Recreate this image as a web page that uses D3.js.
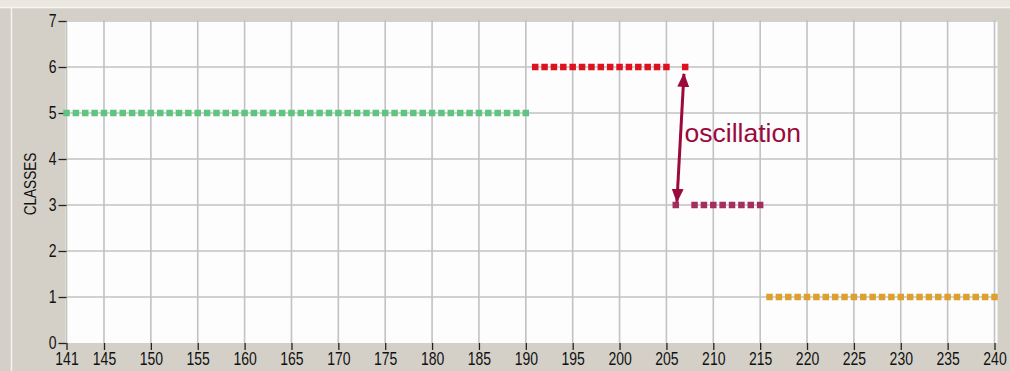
<!DOCTYPE html>
<html>
<head>
<meta charset="utf-8">
<script src="https://cdn.jsdelivr.net/npm/d3@7"></script>
<style>
  html, body { margin: 0; padding: 0; background: #d4d0c8; }
  svg { display: block; }
  .axis text, text.axis-title { font-family: 'Liberation Sans', Arial, sans-serif; font-size: 17.5px; fill: #111; }
</style>
</head>
<body>
<svg id="chart" width="1010" height="371"></svg>
<script>
// Class membership per time step, one array per run of the same class
const greenSteps  = d3.range(141, 191);           // 141 .. 190
const greenClass  = greenSteps.map(() => 5);
const redSteps    = [191,192,193,194,195,196,197,198,199,200,201,202,203,204,205,207];
const redClass    = redSteps.map(() => 6);
const purpleSteps = [206,208,209,210,211,212,213,214,215];
const purpleClass = purpleSteps.map(() => 3);
const orangeSteps = d3.range(216, 241);           // 216 .. 240
const orangeClass = orangeSteps.map(() => 1);

const xTickValues = [141,145,150,155,160,165,170,175,180,185,190,195,200,205,210,215,220,225,230,235,240];
const yTickValues = [0,1,2,3,4,5,6,7];
const yTitle = "CLASSES";

// Annotation: double-headed arrow between the two oscillating classes
const arrowFrom = { step: 206.12, cls: 3.07 };
const arrowTo   = { step: 206.87, cls: 5.85 };
const noteText  = "oscillation";
const notePos   = { step: 206.93, cls: 4.36 };

const series = [
  { steps: greenSteps,  classes: greenClass,  color: "#5fc47f" },
  { steps: redSteps,    classes: redClass,    color: "#e0111e" },
  { steps: purpleSteps, classes: purpleClass, color: "#a3305c" },
  { steps: orangeSteps, classes: orangeClass, color: "#dd9f2d" }
];

const svg = d3.select("#chart");
const W = 1010, H = 371;
const plot = { left: 66.5, right: 994.5, top: 21, bottom: 343 };

// window frame
svg.append("rect").attr("x", 0).attr("y", 0).attr("width", W).attr("height", 7).attr("fill", "#ebe8e2");
svg.append("line").attr("x1", 0).attr("x2", W).attr("y1", 7.5).attr("y2", 7.5).attr("stroke", "#f7f6f3").attr("stroke-width", 1.5);
svg.append("line").attr("x1", 11.5).attr("x2", 11.5).attr("y1", 7).attr("y2", H).attr("stroke", "#f4f3ef").attr("stroke-width", 1.5);

const x = d3.scaleLinear().domain([141, 240]).range([plot.left, plot.right]);
const y = d3.scaleLinear().domain([0, 7]).range([plot.bottom, plot.top]);

// plot background
svg.append("rect")
  .attr("x", plot.left - 1).attr("y", plot.top - 1)
  .attr("width", plot.right - plot.left + 4).attr("height", plot.bottom - plot.top + 1)
  .attr("fill", "#fdfdfd");

// grid
const grid = svg.append("g").attr("stroke", "#c2c2c2").attr("stroke-width", 1.6);
grid.selectAll("line.v").data(xTickValues).join("line")
  .attr("x1", d => x(d)).attr("x2", d => x(d))
  .attr("y1", plot.top - 1).attr("y2", plot.bottom);
grid.selectAll("line.h").data(yTickValues.filter(v => v > 0)).join("line")
  .attr("x1", plot.left).attr("x2", plot.right + 3)
  .attr("y1", d => y(d)).attr("y2", d => y(d));

// axes: tall, narrow labels (horizontally compressed sans)
const squeeze = 0.8;
const xAxis = svg.append("g")
  .attr("class", "axis")
  .attr("transform", `translate(0,${plot.bottom})`)
  .call(d3.axisBottom(x).tickValues(xTickValues).tickFormat(d3.format("d")).tickSize(7).tickPadding(2));
const yAxis = svg.append("g")
  .attr("class", "axis")
  .attr("transform", `translate(${plot.left},0)`)
  .call(d3.axisLeft(y).tickValues(yTickValues).tickFormat(d3.format("d")).tickSize(8).tickPadding(2));
[xAxis, yAxis].forEach(a => {
  a.attr("font-size", null).attr("font-family", null);
  a.select(".domain").remove();
  a.selectAll(".tick line").attr("stroke", "#222").attr("stroke-width", 1.3);
});
xAxis.selectAll(".tick text").attr("transform", `scale(${squeeze},1)`).attr("dy", "0.74em");
yAxis.selectAll(".tick text")
  .attr("x", -10 / squeeze)
  .attr("transform", `scale(${squeeze},1)`);

svg.append("text")
  .attr("class", "axis-title")
  .attr("transform", `translate(36,${(plot.top + plot.bottom) / 2 + 2}) rotate(-90) scale(${squeeze},1)`)
  .attr("text-anchor", "middle")
  .style("font-size", "17px")
  .text(yTitle);

// markers
const size = 6.5;
series.forEach(s => {
  svg.append("g").selectAll("rect")
    .data(s.steps.map((st, i) => [st, s.classes[i]]))
    .join("rect")
    .attr("x", d => x(d[0]) - size / 2)
    .attr("y", d => y(d[1]) - size / 2)
    .attr("width", size).attr("height", size)
    .attr("fill", s.color);
});

// arrow annotation
const noteColor = "#9b0a3c";
const defs = svg.append("defs");
defs.append("marker")
  .attr("id", "head")
  .attr("viewBox", "0 0 14 12")
  .attr("refX", 13).attr("refY", 6)
  .attr("markerWidth", 14).attr("markerHeight", 12)
  .attr("markerUnits", "userSpaceOnUse")
  .attr("orient", "auto-start-reverse")
  .append("path").attr("d", "M0,0 L14,6 L0,12 Z").attr("fill", noteColor);

svg.append("line")
  .attr("x1", x(arrowFrom.step)).attr("y1", y(arrowFrom.cls))
  .attr("x2", x(arrowTo.step)).attr("y2", y(arrowTo.cls))
  .attr("stroke", noteColor).attr("stroke-width", 3)
  .attr("marker-start", "url(#head)").attr("marker-end", "url(#head)");

svg.append("text")
  .attr("x", x(notePos.step)).attr("y", y(notePos.cls))
  .style("font-family", "'Liberation Sans', Arial, sans-serif").style("font-size", "26.5px")
  .attr("fill", noteColor)
  .text(noteText);
</script>
</body>
</html>
